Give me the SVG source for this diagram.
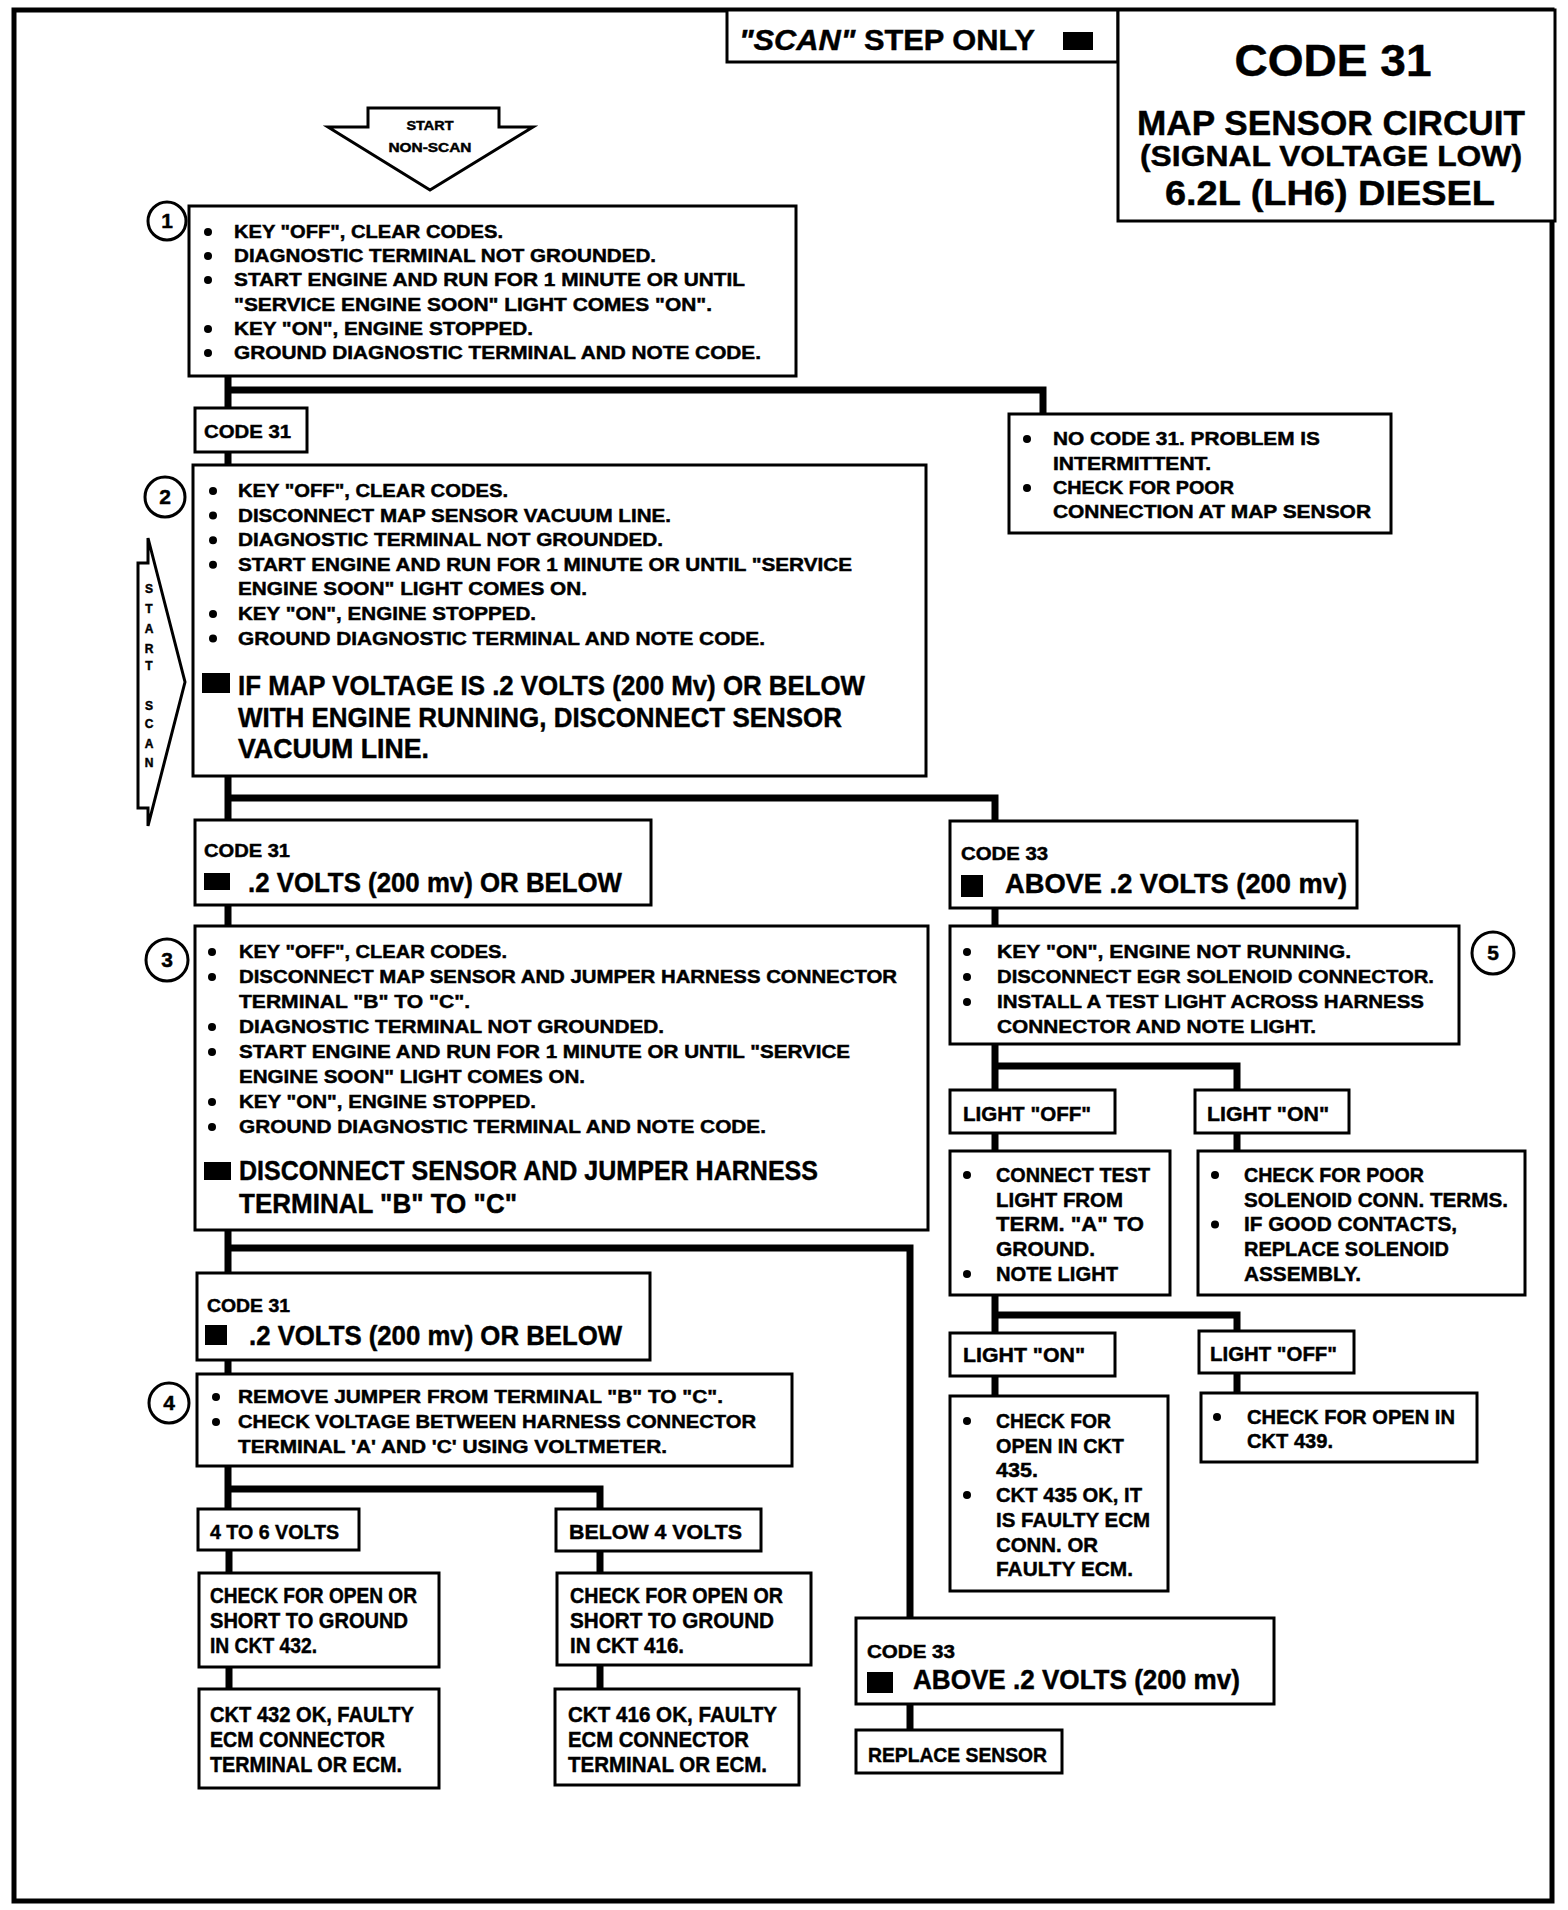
<svg xmlns="http://www.w3.org/2000/svg" width="1568" height="1910" viewBox="0 0 1568 1910">
<style>
.bx{fill:#fff;stroke:#000;stroke-width:3}
.t{font-family:"Liberation Sans",Arial,sans-serif;font-weight:bold;fill:#000;stroke:#000;stroke-width:0.45}
.f17{font-size:18px}.f18{font-size:19px}.f20{font-size:21px}.f21{font-size:22px}.f27{font-size:27px}.f28{font-size:28px}
.d{fill:#000}
.num{fill:#fff;stroke:#000;stroke-width:3}
</style>
<rect x="0" y="0" width="1568" height="1910" fill="#fff"/>
<rect id="frame" x="14" y="10" width="1538" height="1891" fill="none" stroke="#000" stroke-width="5"/>

<g id="connectors" fill="none" stroke="#000" stroke-width="7">
<path d="M228,376 V465 M228,390 H1043 V414"/>
<path d="M228,776 V926 M228,798 H995 V821"/>
<path d="M995,908 V926"/>
<path d="M228,1230 V1374 M228,1248 H910 V1618"/>
<path d="M910,1703 V1730"/>
<path d="M228,1466 V1509 M228,1489 H600 V1509"/>
<path d="M229,1550 V1573 M229,1667 V1689"/>
<path d="M600,1551 V1573 M600,1665 V1689"/>
<path d="M995,1044 V1090 M995,1066 H1237 V1090"/>
<path d="M995,1133 V1151 M1237,1133 V1151"/>
<path d="M995,1295 V1333 M995,1315 H1237 V1331"/>
<path d="M995,1376 V1396 M1237,1373 V1393"/>
</g>

<g id="scan-step">
<rect class="bx" x="727" y="10" width="391" height="52"/>
<text class="t" x="739" y="50" font-size="29" textLength="296" lengthAdjust="spacingAndGlyphs"><tspan font-style="italic">"SCAN"</tspan> STEP ONLY</text>
<rect class="d" x="1063" y="32" width="30" height="18"/>
</g>

<g id="title">
<rect class="bx" x="1118" y="10" width="437" height="211"/>
<text class="t" x="1333" y="76" font-size="45" text-anchor="middle" textLength="197" lengthAdjust="spacingAndGlyphs">CODE 31</text>
<text class="t" x="1331" y="135" font-size="35" text-anchor="middle" textLength="388" lengthAdjust="spacingAndGlyphs">MAP SENSOR CIRCUIT</text>
<text class="t" x="1331" y="166" font-size="29" text-anchor="middle" textLength="382" lengthAdjust="spacingAndGlyphs">(SIGNAL VOLTAGE LOW)</text>
<text class="t" x="1330" y="205" font-size="35" text-anchor="middle" textLength="330" lengthAdjust="spacingAndGlyphs">6.2L  (LH6)  DIESEL</text>
</g>

<g id="start-nonscan">
<polygon points="368,108 499,108 499,127 533,127 430,190 328,127 368,127" fill="#fff" stroke="#000" stroke-width="3"/>
<text class="t" x="430" y="130" font-size="13" text-anchor="middle" textLength="47" lengthAdjust="spacingAndGlyphs">START</text>
<text class="t" x="430" y="152" font-size="13" text-anchor="middle" textLength="83" lengthAdjust="spacingAndGlyphs">NON-SCAN</text>
</g>

<g id="start-scan">
<path d="M148,538 L185,682 L148,826 L148,808 L138,808 L138,563 L148,563 Z" fill="#fff" stroke="#000" stroke-width="3"/>
<g class="t" font-size="12" text-anchor="middle">
<text x="149" y="593">S</text><text x="149" y="613">T</text><text x="149" y="633">A</text><text x="149" y="653">R</text><text x="149" y="670">T</text>
<text x="149" y="710">S</text><text x="149" y="728">C</text><text x="149" y="748">A</text><text x="149" y="767">N</text>
</g>
</g>

<g id="step1">
<circle class="num" cx="167" cy="221" r="19"/>
<text class="t" x="167" y="228" font-size="21" text-anchor="middle">1</text>
<rect class="bx" x="189" y="206" width="607" height="170"/>
<circle class="d" cx="208" cy="232" r="4"/><text class="t f17" x="234" y="238" textLength="269" lengthAdjust="spacingAndGlyphs">KEY "OFF", CLEAR CODES.</text>
<circle class="d" cx="208" cy="256" r="4"/><text class="t f17" x="234" y="262" textLength="422" lengthAdjust="spacingAndGlyphs">DIAGNOSTIC TERMINAL NOT GROUNDED.</text>
<circle class="d" cx="208" cy="280" r="4"/><text class="t f17" x="234" y="286" textLength="511" lengthAdjust="spacingAndGlyphs">START  ENGINE AND RUN FOR 1 MINUTE OR UNTIL</text>
<text class="t f17" x="234" y="311" textLength="478" lengthAdjust="spacingAndGlyphs">"SERVICE ENGINE SOON" LIGHT COMES "ON".</text>
<circle class="d" cx="208" cy="329" r="4"/><text class="t f17" x="234" y="335" textLength="299" lengthAdjust="spacingAndGlyphs">KEY "ON", ENGINE STOPPED.</text>
<circle class="d" cx="208" cy="353" r="4"/><text class="t f17" x="234" y="359" textLength="527" lengthAdjust="spacingAndGlyphs">GROUND DIAGNOSTIC TERMINAL AND NOTE CODE.</text>
</g>

<g id="code31-a">
<rect class="bx" x="195" y="408" width="112" height="44"/>
<text class="t f18" x="204" y="438" textLength="87" lengthAdjust="spacingAndGlyphs">CODE 31</text>
</g>

<g id="no-code31">
<rect class="bx" x="1009" y="414" width="382" height="119"/>
<circle class="d" cx="1027" cy="439" r="4"/><text class="t f17" x="1053" y="445" textLength="267" lengthAdjust="spacingAndGlyphs">NO CODE 31.  PROBLEM IS</text>
<text class="t f17" x="1053" y="470" textLength="158" lengthAdjust="spacingAndGlyphs">INTERMITTENT.</text>
<circle class="d" cx="1027" cy="488" r="4"/><text class="t f17" x="1053" y="494" textLength="181" lengthAdjust="spacingAndGlyphs">CHECK FOR POOR</text>
<text class="t f17" x="1053" y="518" textLength="318" lengthAdjust="spacingAndGlyphs">CONNECTION AT MAP SENSOR</text>
</g>

<g id="step2">
<circle class="num" cx="165" cy="497" r="20"/>
<text class="t" x="165" y="504" font-size="21" text-anchor="middle">2</text>
<rect class="bx" x="193" y="465" width="733" height="311"/>
<circle class="d" cx="213" cy="491" r="4"/><text class="t f17" x="238" y="497" textLength="270" lengthAdjust="spacingAndGlyphs">KEY "OFF", CLEAR CODES.</text>
<circle class="d" cx="213" cy="515.6" r="4"/><text class="t f17" x="238" y="521.6" textLength="433" lengthAdjust="spacingAndGlyphs">DISCONNECT MAP SENSOR VACUUM LINE.</text>
<circle class="d" cx="213" cy="540.2" r="4"/><text class="t f17" x="238" y="546.2" textLength="425" lengthAdjust="spacingAndGlyphs">DIAGNOSTIC TERMINAL NOT GROUNDED.</text>
<circle class="d" cx="213" cy="564.8" r="4"/><text class="t f17" x="238" y="570.8" textLength="614" lengthAdjust="spacingAndGlyphs">START  ENGINE AND RUN FOR 1 MINUTE OR UNTIL "SERVICE</text>
<text class="t f17" x="238" y="595.4" textLength="349" lengthAdjust="spacingAndGlyphs">ENGINE SOON" LIGHT COMES ON.</text>
<circle class="d" cx="213" cy="614" r="4"/><text class="t f17" x="238" y="620" textLength="298" lengthAdjust="spacingAndGlyphs">KEY "ON", ENGINE STOPPED.</text>
<circle class="d" cx="213" cy="638.6" r="4"/><text class="t f17" x="238" y="644.6" textLength="527" lengthAdjust="spacingAndGlyphs">GROUND DIAGNOSTIC TERMINAL AND NOTE CODE.</text>
<rect class="d" x="202" y="673" width="28" height="20"/>
<text class="t f28" x="238" y="695" textLength="627" lengthAdjust="spacingAndGlyphs">IF MAP VOLTAGE IS .2 VOLTS (200 Mv) OR BELOW</text>
<text class="t f28" x="238" y="727" textLength="604" lengthAdjust="spacingAndGlyphs">WITH ENGINE RUNNING,  DISCONNECT SENSOR</text>
<text class="t f28" x="238" y="758" textLength="191" lengthAdjust="spacingAndGlyphs">VACUUM LINE.</text>
</g>

<g id="code31-b">
<rect class="bx" x="195" y="820" width="456" height="85"/>
<text class="t f17" x="204" y="857" textLength="86" lengthAdjust="spacingAndGlyphs">CODE 31</text>
<rect class="d" x="204" y="873" width="26" height="17"/>
<text class="t f27" x="248" y="892" textLength="374" lengthAdjust="spacingAndGlyphs">.2 VOLTS (200 mv) OR BELOW</text>
</g>

<g id="code33-a">
<rect class="bx" x="950" y="821" width="407" height="87"/>
<text class="t f17" x="961" y="860" textLength="87" lengthAdjust="spacingAndGlyphs">CODE 33</text>
<rect class="d" x="961" y="875" width="22" height="22"/>
<text class="t f27" x="1005" y="893" textLength="342" lengthAdjust="spacingAndGlyphs">ABOVE .2 VOLTS (200 mv)</text>
</g>

<g id="step3">
<circle class="num" cx="167" cy="960" r="21"/>
<text class="t" x="167" y="967" font-size="21" text-anchor="middle">3</text>
<rect class="bx" x="195" y="926" width="733" height="304"/>
<circle class="d" cx="212" cy="952" r="4"/><text class="t f17" x="239" y="958" textLength="268" lengthAdjust="spacingAndGlyphs">KEY "OFF", CLEAR CODES.</text>
<circle class="d" cx="212" cy="977" r="4"/><text class="t f17" x="239" y="983" textLength="658" lengthAdjust="spacingAndGlyphs">DISCONNECT MAP SENSOR AND JUMPER HARNESS CONNECTOR</text>
<text class="t f17" x="239" y="1008" textLength="231" lengthAdjust="spacingAndGlyphs">TERMINAL "B" TO "C".</text>
<circle class="d" cx="212" cy="1027" r="4"/><text class="t f17" x="239" y="1033" textLength="425" lengthAdjust="spacingAndGlyphs">DIAGNOSTIC TERMINAL NOT GROUNDED.</text>
<circle class="d" cx="212" cy="1052" r="4"/><text class="t f17" x="239" y="1058" textLength="611" lengthAdjust="spacingAndGlyphs">START  ENGINE AND RUN FOR 1 MINUTE OR UNTIL "SERVICE</text>
<text class="t f17" x="239" y="1083" textLength="346" lengthAdjust="spacingAndGlyphs">ENGINE SOON" LIGHT COMES ON.</text>
<circle class="d" cx="212" cy="1102" r="4"/><text class="t f17" x="239" y="1108" textLength="297" lengthAdjust="spacingAndGlyphs">KEY "ON", ENGINE STOPPED.</text>
<circle class="d" cx="212" cy="1127" r="4"/><text class="t f17" x="239" y="1133" textLength="527" lengthAdjust="spacingAndGlyphs">GROUND DIAGNOSTIC TERMINAL AND NOTE CODE.</text>
<rect class="d" x="204" y="1162" width="27" height="18"/>
<text class="t f28" x="239" y="1180" textLength="579" lengthAdjust="spacingAndGlyphs">DISCONNECT SENSOR AND JUMPER HARNESS</text>
<text class="t f28" x="239" y="1213" textLength="278" lengthAdjust="spacingAndGlyphs">TERMINAL "B" TO "C"</text>
</g>

<g id="code31-c">
<rect class="bx" x="197" y="1273" width="453" height="87"/>
<text class="t f17" x="207" y="1312" textLength="83" lengthAdjust="spacingAndGlyphs">CODE 31</text>
<rect class="d" x="205" y="1325" width="22" height="20"/>
<text class="t f27" x="249" y="1345" textLength="373" lengthAdjust="spacingAndGlyphs">.2 VOLTS (200 mv) OR BELOW</text>
</g>

<g id="step4">
<circle class="num" cx="169" cy="1403" r="20"/>
<text class="t" x="169" y="1410" font-size="21" text-anchor="middle">4</text>
<rect class="bx" x="197" y="1374" width="595" height="92"/>
<circle class="d" cx="216" cy="1397" r="4"/><text class="t f17" x="238" y="1403" textLength="485" lengthAdjust="spacingAndGlyphs">REMOVE JUMPER FROM TERMINAL "B" TO "C".</text>
<circle class="d" cx="216" cy="1422" r="4"/><text class="t f17" x="238" y="1428" textLength="518" lengthAdjust="spacingAndGlyphs">CHECK VOLTAGE BETWEEN HARNESS CONNECTOR</text>
<text class="t f17" x="238" y="1453" textLength="429" lengthAdjust="spacingAndGlyphs">TERMINAL 'A' AND 'C' USING VOLTMETER.</text>
</g>

<g id="v4to6">
<rect class="bx" x="198" y="1509" width="161" height="41"/>
<text class="t f20" x="210" y="1539" textLength="129" lengthAdjust="spacingAndGlyphs">4 TO 6 VOLTS</text>
</g>
<g id="vbelow4">
<rect class="bx" x="556" y="1509" width="205" height="42"/>
<text class="t f20" x="569" y="1539" textLength="173" lengthAdjust="spacingAndGlyphs">BELOW 4  VOLTS</text>
</g>
<g id="check432">
<rect class="bx" x="199" y="1573" width="240" height="94"/>
<text class="t f21" x="210" y="1603" textLength="207" lengthAdjust="spacingAndGlyphs">CHECK FOR OPEN OR</text>
<text class="t f21" x="210" y="1628" textLength="198" lengthAdjust="spacingAndGlyphs">SHORT TO GROUND</text>
<text class="t f21" x="210" y="1653" textLength="107" lengthAdjust="spacingAndGlyphs">IN CKT 432.</text>
</g>
<g id="ok432">
<rect class="bx" x="199" y="1689" width="240" height="99"/>
<text class="t f21" x="210" y="1722" textLength="204" lengthAdjust="spacingAndGlyphs">CKT 432 OK, FAULTY</text>
<text class="t f21" x="210" y="1747" textLength="175" lengthAdjust="spacingAndGlyphs">ECM CONNECTOR</text>
<text class="t f21" x="210" y="1772" textLength="192" lengthAdjust="spacingAndGlyphs">TERMINAL OR ECM.</text>
</g>
<g id="check416">
<rect class="bx" x="557" y="1573" width="254" height="92"/>
<text class="t f21" x="570" y="1603" textLength="213" lengthAdjust="spacingAndGlyphs">CHECK FOR OPEN OR</text>
<text class="t f21" x="570" y="1628" textLength="204" lengthAdjust="spacingAndGlyphs">SHORT TO GROUND</text>
<text class="t f21" x="570" y="1653" textLength="114" lengthAdjust="spacingAndGlyphs">IN CKT 416.</text>
</g>
<g id="ok416">
<rect class="bx" x="555" y="1689" width="244" height="96"/>
<text class="t f21" x="568" y="1722" textLength="209" lengthAdjust="spacingAndGlyphs">CKT 416 OK, FAULTY</text>
<text class="t f21" x="568" y="1747" textLength="181" lengthAdjust="spacingAndGlyphs">ECM CONNECTOR</text>
<text class="t f21" x="568" y="1772" textLength="199" lengthAdjust="spacingAndGlyphs">TERMINAL OR ECM.</text>
</g>

<g id="step5">
<circle class="num" cx="1493" cy="953" r="21"/>
<text class="t" x="1493" y="960" font-size="21" text-anchor="middle">5</text>
<rect class="bx" x="950" y="926" width="509" height="118"/>
<circle class="d" cx="967" cy="952" r="4"/><text class="t f18" x="997" y="958" textLength="354" lengthAdjust="spacingAndGlyphs">KEY "ON", ENGINE NOT RUNNING.</text>
<circle class="d" cx="967" cy="977" r="4"/><text class="t f18" x="997" y="983" textLength="437" lengthAdjust="spacingAndGlyphs">DISCONNECT EGR SOLENOID CONNECTOR.</text>
<circle class="d" cx="967" cy="1002" r="4"/><text class="t f18" x="997" y="1008" textLength="427" lengthAdjust="spacingAndGlyphs">INSTALL A TEST LIGHT ACROSS HARNESS</text>
<text class="t f18" x="997" y="1033" textLength="319" lengthAdjust="spacingAndGlyphs">CONNECTOR AND NOTE LIGHT.</text>
</g>

<g id="light-off-a">
<rect class="bx" x="950" y="1090" width="165" height="43"/>
<text class="t f20" x="963" y="1121" textLength="128" lengthAdjust="spacingAndGlyphs">LIGHT "OFF"</text>
</g>
<g id="light-on-a">
<rect class="bx" x="1195" y="1090" width="154" height="43"/>
<text class="t f20" x="1207" y="1121" textLength="122" lengthAdjust="spacingAndGlyphs">LIGHT "ON"</text>
</g>
<g id="connect-test">
<rect class="bx" x="950" y="1151" width="220" height="144"/>
<circle class="d" cx="967" cy="1175" r="4"/><text class="t f20" x="996" y="1182" textLength="154" lengthAdjust="spacingAndGlyphs">CONNECT TEST</text>
<text class="t f20" x="996" y="1206.7" textLength="127" lengthAdjust="spacingAndGlyphs">LIGHT FROM</text>
<text class="t f20" x="996" y="1231.4" textLength="148" lengthAdjust="spacingAndGlyphs">TERM. "A"  TO</text>
<text class="t f20" x="996" y="1256.1" textLength="99" lengthAdjust="spacingAndGlyphs">GROUND.</text>
<circle class="d" cx="967" cy="1274" r="4"/><text class="t f20" x="996" y="1281" textLength="122" lengthAdjust="spacingAndGlyphs">NOTE LIGHT</text>
</g>
<g id="check-poor">
<rect class="bx" x="1198" y="1151" width="327" height="144"/>
<circle class="d" cx="1215" cy="1175" r="4"/><text class="t f20" x="1244" y="1182" textLength="180" lengthAdjust="spacingAndGlyphs">CHECK FOR POOR</text>
<text class="t f20" x="1244" y="1206.7" textLength="264" lengthAdjust="spacingAndGlyphs">SOLENOID CONN. TERMS.</text>
<circle class="d" cx="1215" cy="1224.4" r="4"/><text class="t f20" x="1244" y="1231.4" textLength="213" lengthAdjust="spacingAndGlyphs">IF GOOD CONTACTS,</text>
<text class="t f20" x="1244" y="1256.1" textLength="205" lengthAdjust="spacingAndGlyphs">REPLACE SOLENOID</text>
<text class="t f20" x="1244" y="1281" textLength="117" lengthAdjust="spacingAndGlyphs">ASSEMBLY.</text>
</g>
<g id="light-on-b">
<rect class="bx" x="950" y="1333" width="165" height="43"/>
<text class="t f20" x="963" y="1362" textLength="122" lengthAdjust="spacingAndGlyphs">LIGHT "ON"</text>
</g>
<g id="light-off-b">
<rect class="bx" x="1199" y="1331" width="155" height="42"/>
<text class="t f20" x="1210" y="1361" textLength="127" lengthAdjust="spacingAndGlyphs">LIGHT "OFF"</text>
</g>
<g id="ckt435">
<rect class="bx" x="950" y="1396" width="218" height="195"/>
<circle class="d" cx="967" cy="1421" r="4"/><text class="t f20" x="996" y="1428" textLength="115" lengthAdjust="spacingAndGlyphs">CHECK FOR</text>
<text class="t f20" x="996" y="1452.7" textLength="128" lengthAdjust="spacingAndGlyphs">OPEN IN CKT</text>
<text class="t f20" x="996" y="1477.4" textLength="42" lengthAdjust="spacingAndGlyphs">435.</text>
<circle class="d" cx="967" cy="1495" r="4"/><text class="t f20" x="996" y="1502.1" textLength="146" lengthAdjust="spacingAndGlyphs">CKT 435 OK, IT</text>
<text class="t f20" x="996" y="1526.8" textLength="154" lengthAdjust="spacingAndGlyphs">IS FAULTY ECM</text>
<text class="t f20" x="996" y="1551.5" textLength="102" lengthAdjust="spacingAndGlyphs">CONN. OR</text>
<text class="t f20" x="996" y="1576.2" textLength="137" lengthAdjust="spacingAndGlyphs">FAULTY ECM.</text>
</g>
<g id="ckt439">
<rect class="bx" x="1201" y="1393" width="276" height="69"/>
<circle class="d" cx="1217" cy="1417" r="4"/><text class="t f20" x="1247" y="1424" textLength="208" lengthAdjust="spacingAndGlyphs">CHECK FOR  OPEN IN</text>
<text class="t f20" x="1247" y="1448" textLength="86" lengthAdjust="spacingAndGlyphs">CKT 439.</text>
</g>

<g id="code33-b">
<rect class="bx" x="856" y="1618" width="418" height="86"/>
<text class="t f17" x="867" y="1658" textLength="88" lengthAdjust="spacingAndGlyphs">CODE 33</text>
<rect class="d" x="867" y="1672" width="26" height="21"/>
<text class="t f27" x="913" y="1689" textLength="327" lengthAdjust="spacingAndGlyphs">ABOVE .2 VOLTS (200 mv)</text>
</g>
<g id="replace-sensor">
<rect class="bx" x="856" y="1730" width="206" height="43"/>
<text class="t f20" x="868" y="1762" textLength="179" lengthAdjust="spacingAndGlyphs">REPLACE SENSOR</text>
</g>
</svg>
